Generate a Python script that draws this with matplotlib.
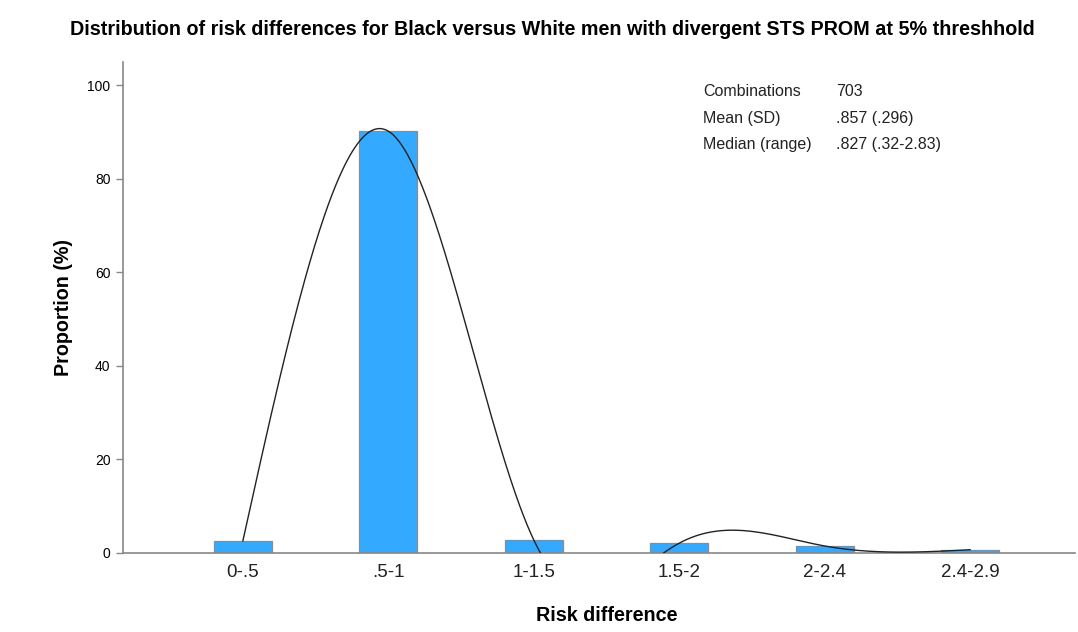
import numpy as np
import matplotlib
matplotlib.use("Agg")
import matplotlib.pyplot as plt

plt.rcParams['font.family'] = ['Liberation Sans', 'DejaVu Sans']

# ----- data -----
categories = ['0-.5', '.5-1', '1-1.5', '1.5-2', '2-2.4', '2.4-2.9']
proportions = [2.6, 90.2, 2.8, 2.1, 1.5, 0.7]
stat_labels = ['Combinations', 'Mean (SD)', 'Median (range)']
stat_values = ['703', '.857 (.296)', '.827 (.32-2.83)']


def natural_spline(x, y, xs):
    # natural cubic spline through (x, y), evaluated at xs
    x = np.asarray(x, float)
    y = np.asarray(y, float)
    n = len(x)
    h = np.diff(x)
    A = np.zeros((n, n))
    b = np.zeros(n)
    A[0, 0] = 1
    A[-1, -1] = 1
    for i in range(1, n - 1):
        A[i, i - 1] = h[i - 1]
        A[i, i] = 2 * (h[i - 1] + h[i])
        A[i, i + 1] = h[i]
        b[i] = 6 * ((y[i + 1] - y[i]) / h[i] - (y[i] - y[i - 1]) / h[i - 1])
    M = np.linalg.solve(A, b)
    idx = np.clip(np.searchsorted(x, xs) - 1, 0, n - 2)
    x0, x1 = x[idx], x[idx + 1]
    hh = x1 - x0
    t0, t1 = x1 - xs, xs - x0
    return (M[idx] * t0**3 / (6 * hh) + M[idx + 1] * t1**3 / (6 * hh)
            + (y[idx] / hh - M[idx] * hh / 6) * t0
            + (y[idx + 1] / hh - M[idx + 1] * hh / 6) * t1)


pos = np.arange(len(categories))

fig = plt.figure(figsize=(10.78, 6.32), dpi=100)
ax = fig.add_axes([0.114, 0.125, 0.883, 0.777])

ax.bar(pos, proportions, width=0.4, color='#33aaff', edgecolor='#8c8c8c', linewidth=0.9, zorder=2)

xs = np.linspace(pos[0], pos[-1], 600)
ys = natural_spline(pos, proportions, xs)
ax.plot(xs, ys, color='#222222', linewidth=1.0, zorder=3)

ax.set_xlim(-0.825, 5.72)
ax.set_ylim(0, 105)
ax.set_yticks([0, 20, 40, 60, 80, 100])
ax.set_xticks(pos)
ax.set_xticklabels(categories, fontsize=13.5, color='#222222')
ax.tick_params(axis='x', length=0, pad=8)
ax.tick_params(axis='y', length=5, width=1, color='#888888', labelsize=10, pad=4)

for s in ['top', 'right']:
    ax.spines[s].set_visible(False)
for s in ['left', 'bottom']:
    ax.spines[s].set_color('#888888')
    ax.spines[s].set_linewidth(1.2)

ax.set_xlabel('Risk difference', fontsize=14.2, fontweight='bold', labelpad=18)
ax.xaxis.label.set_x(0.508)
ax.set_ylabel('Proportion (%)', fontsize=14.2, fontweight='bold', labelpad=10)
fig.suptitle('Distribution of risk differences for Black versus White men with divergent STS PROM at 5% threshhold',
             fontsize=14.2, fontweight='bold', x=0.5125, y=0.968)

for i, (lab, val) in enumerate(zip(stat_labels, stat_values)):
    yy = 91 + i * 27
    fig.text(703 / 1078, 1 - yy / 632, lab, fontsize=11.5, va='center', ha='left', color='#222222')
    fig.text(836 / 1078, 1 - yy / 632, val, fontsize=11.5, va='center', ha='left', color='#222222')

fig.savefig('out.png', dpi=100)
